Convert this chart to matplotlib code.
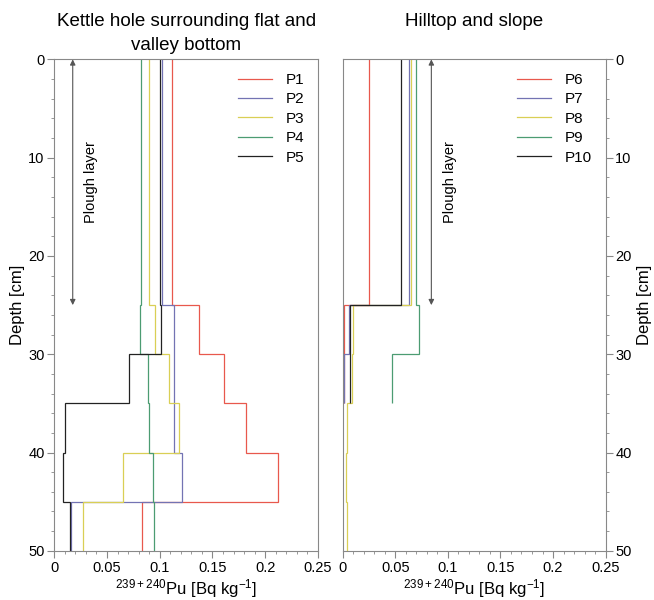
import numpy as np
import matplotlib.pyplot as plt
from matplotlib.ticker import MultipleLocator

plt.rcParams['font.family'] = ['Liberation Sans', 'DejaVu Sans']
plt.rcParams['mathtext.default'] = 'regular'

# depth layer edges [cm]
edges_full = [0, 25, 30, 35, 40, 45, 50]
edges_short = [0, 25, 30, 35]

# Pu-239+240 activity per layer [Bq kg-1]
p1 = [0.1117, 0.1372, 0.1606, 0.1818, 0.212, 0.0835]
p2 = [0.1025, 0.1139, 0.1139, 0.1139, 0.1209, 0.0161]
p3 = [0.0895, 0.0958, 0.1085, 0.1186, 0.0649, 0.0272]
p4 = [0.0826, 0.0816, 0.0886, 0.0895, 0.0934, 0.0949]
p5 = [0.1006, 0.1016, 0.0706, 0.0105, 0.0086, 0.0146]

p6 = [0.025, 0.0008, 0.0008]
p7 = [0.0633, 0.0063, 0.001]
p8 = [0.0652, 0.0098, 0.0088, 0.0038, 0.0029, 0.0038]
p9 = [0.0700, 0.0728, 0.0469]
p10 = [0.0557, 0.0072, 0.0072]

colors = ['#e8584d', '#7373b3', '#d9cf55', '#4c9c72', '#222222']

left_series = [('P1', p1, edges_full), ('P2', p2, edges_full), ('P3', p3, edges_full),
               ('P4', p4, edges_full), ('P5', p5, edges_full)]
right_series = [('P6', p6, edges_short), ('P7', p7, edges_short), ('P8', p8, edges_full),
                ('P9', p9, edges_short), ('P10', p10, edges_short)]

fig = plt.figure(figsize=(6.54, 6.0), dpi=100)
ax1 = fig.add_axes([0.083, 0.082, 0.403, 0.819])
ax2 = fig.add_axes([0.524, 0.082, 0.402, 0.819])

spine_col = '#888888'
for ax, series in [(ax1, left_series), (ax2, right_series)]:
    for (name, vals, edges), c in zip(series, colors):
        ax.stairs(vals, edges, orientation='horizontal', baseline=None,
                  color=c, lw=0.9, label=name)
    ax.set_xlim(0, 0.25)
    ax.set_ylim(50, 0)
    ax.set_xticks([0, 0.05, 0.1, 0.15, 0.2, 0.25])
    ax.set_xticklabels(['0', '0.05', '0.1', '0.15', '0.2', '0.25'])
    ax.xaxis.set_minor_locator(MultipleLocator(0.01))
    ax.set_yticks([0, 10, 20, 30, 40, 50])
    ax.yaxis.set_minor_locator(MultipleLocator(2))
    ax.tick_params(which='both', colors=spine_col, labelcolor='black', labelsize=10.5, pad=2)
    ax.tick_params(which='major', length=5, width=0.8)
    ax.tick_params(which='minor', length=2.5, width=0.6)
    for s in ax.spines.values():
        s.set_color(spine_col)
        s.set_linewidth(0.8)
    ax.set_xlabel('$^{239+240}$Pu [Bq kg$^{-1}$]', fontsize=12, labelpad=2)
    ax.legend(loc='upper right', frameon=False, fontsize=11, handlelength=2.2,
              handletextpad=0.9, labelspacing=0.35, borderaxespad=0.5)

ax1.set_ylabel('Depth [cm]', fontsize=12, labelpad=2)
ax2.yaxis.tick_right()
ax2.yaxis.set_label_position('right')
ax2.set_ylabel('Depth [cm]', fontsize=12)

# plough layer arrows
for ax, xa, xt in [(ax1, 0.0175, 0.035), (ax2, 0.0843, 0.102)]:
    ax.annotate('', xy=(xa, 0), xytext=(xa, 25),
                arrowprops=dict(arrowstyle='<|-|>', color='#555555', lw=0.8,
                                mutation_scale=8, shrinkA=0, shrinkB=0))
    ax.text(xt, 12.5, 'Plough layer', rotation=90, ha='center', va='center', fontsize=10.5)

fig.text(0.285, 0.978, 'Kettle hole surrounding flat and\nvalley bottom', ha='center', va='top',
         fontsize=13.5, linespacing=1.55)
fig.text(0.725, 0.978, 'Hilltop and slope', ha='center', va='top', fontsize=13.5)

fig.savefig('out.png', dpi=100)
